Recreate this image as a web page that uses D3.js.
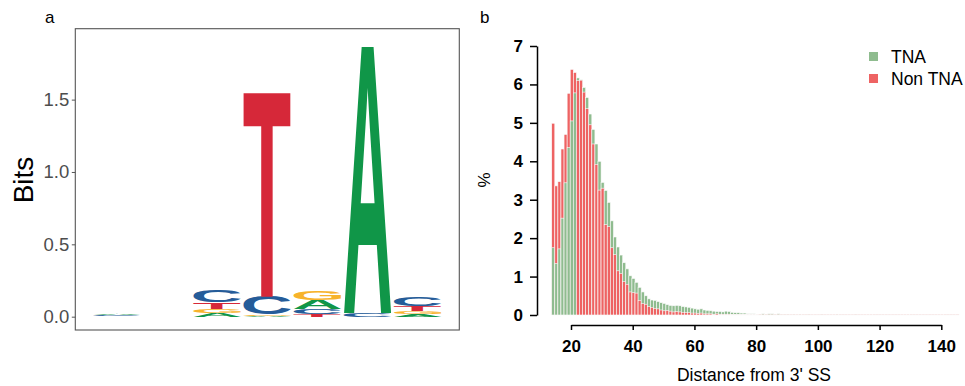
<!DOCTYPE html>
<html>
<head>
<meta charset="utf-8">
<script src="https://cdn.jsdelivr.net/npm/d3@7"></script>
<style>
  body { margin: 0; background: #fff; }
  svg { display: block; }
</style>
</head>
<body>
<div id="chart"></div>
<script>
// ---- panel a: sequence logo (bits per letter, positions 1..7)
const logoPositions = [1, 2, 3, 4, 5, 6, 7];
const bitsA = [0.008, 0, 0.025, 0.006, 0.062, 1.870, 0.019];
const bitsC = [0.004, 0, 0.082, 0.124, 0.036, 0.025, 0.062];
const bitsG = [0.003, 0, 0.030, 0.008, 0.063, 0, 0.020];
const bitsT = [0.003, 0, 0.045, 1.430, 0.016, 0, 0.035];
const bitsTicks = [0, 0.5, 1.0, 1.5];

// ---- panel b: distance from 3' SS (%), distances 14..145
const distances = d3.range(14, 146);
const tnaPct = [
  1.75, 1.34, 1.72, 2.52, 3.44, 4.36, 5.05, 5.78, 6.17, 6.12,
  5.92, 5.66, 5.23, 4.83, 4.45, 4.00, 3.45, 3.24, 2.93, 2.45,
  2.03, 1.77, 1.56, 1.36, 1.20, 1.02, 0.95, 0.85, 0.72, 0.60,
  0.50, 0.42, 0.39, 0.38, 0.35, 0.32, 0.30, 0.27, 0.25, 0.24,
  0.25, 0.24, 0.22, 0.21, 0.20, 0.18, 0.16, 0.15, 0.16, 0.13,
  0.12, 0.11, 0.10, 0.09, 0.09, 0.08, 0.10, 0.09, 0.07, 0.06,
  0.06, 0.05, 0.05, 0.03, 0.03, 0.03, 0.02, 0.02, 0.03, 0.02,
  0.03, 0.03, 0.02, 0.03, 0.02, 0.02, 0.02, 0.01, 0.02, 0.01,
  0.02, 0.01, 0.01, 0.02, 0.01, 0.01, 0.01, 0.02, 0.01, 0.01,
  0.01, 0.01, 0.02, 0.01, 0.01, 0.01, 0.01, 0.01, 0.02, 0.01,
  0.01, 0.01, 0.01, 0.01, 0.01, 0.01, 0.01, 0.01, 0.01, 0.01,
  0.01, 0.01, 0.01, 0.01, 0.01, 0.01, 0.01, 0.01, 0.01, 0.01,
  0.01, 0.01, 0.01, 0.01, 0.01, 0.01, 0.01, 0.01, 0.01, 0.01,
  0.01, 0.01
];
const nonTnaPct = [
  4.99, 3.36, 3.47, 4.32, 4.70, 5.77, 6.39, 6.31, 6.10, 6.11,
  5.80, 5.37, 4.95, 4.45, 3.92, 3.25, 3.30, 2.35, 2.30, 1.75,
  1.57, 1.15, 1.08, 0.87, 0.80, 0.60, 0.58, 0.57, 0.38, 0.30,
  0.28, 0.22, 0.20, 0.17, 0.16, 0.13, 0.11, 0.12, 0.10, 0.08,
  0.09, 0.08, 0.07, 0.06, 0.06, 0.05, 0.05, 0.04, 0.05, 0.03,
  0.03, 0.03, 0.02, 0.03, 0.02, 0.02, 0.02, 0.02, 0.01, 0.01,
  0.01, 0.01, 0.01, 0.01, 0.01, 0.01, 0.01, 0.005, 0.005, 0.005,
  0.005, 0.005, 0.005, 0.005, 0.005, 0.005, 0.005, 0.005, 0.005, 0.005,
  0.005, 0.005, 0.005, 0.005, 0.005, 0.005, 0.005, 0.005, 0.005, 0.005,
  0.005, 0.005, 0.005, 0.005, 0.005, 0.005, 0.005, 0.005, 0.005, 0.005,
  0.005, 0.005, 0.005, 0.005, 0.005, 0.005, 0.005, 0.005, 0.005, 0.005,
  0.005, 0.005, 0.005, 0.005, 0.005, 0.005, 0.005, 0.005, 0.005, 0.005,
  0.005, 0.005, 0.005, 0.005, 0.005, 0.005, 0.005, 0.005, 0.005, 0.005,
  0.005, 0.005
];
const pctTicks = [0, 1, 2, 3, 4, 5, 6, 7];
const distTicks = [20, 40, 60, 80, 100, 120, 140];
const seriesNames = ["TNA", "Non TNA"];

const width = 965, height = 386;
const font = "'Liberation Sans', Arial, Helvetica, sans-serif";
const letterColor = { A: "#109648", C: "#255C99", G: "#F7B32B", T: "#D62839" };
const seriesColor = ["#8fbc8f", "#ee6363"];

const svg = d3.select("#chart")
    .append("svg")
    .attr("width", width)
    .attr("height", height)
    .style("font-family", font);

// ================= panel a =================
const xa = d3.scaleLinear().domain([0.17, 7.83]).range([75.3, 459.3]);
const ya = d3.scaleLinear().domain([-0.092, 1.99]).range([330, 28.7]);

svg.append("text")
    .attr("x", 45).attr("y", 23)
    .style("font-size", "17px")
    .text("a");

// tight glyph bounds from canvas, so every letter fills its box
const ctx = document.createElement("canvas").getContext("2d");
ctx.font = `bold 100px ${font}`;
const glyph = {};
["A", "C", "G", "T"].forEach(l => {
    const m = ctx.measureText(l);
    glyph[l] = {
        left: m.actualBoundingBoxLeft, right: m.actualBoundingBoxRight,
        asc: m.actualBoundingBoxAscent, desc: m.actualBoundingBoxDescent
    };
});

const letters = [];
logoPositions.forEach((p, i) => {
    const stack = [
        { l: "A", h: bitsA[i] }, { l: "C", h: bitsC[i] },
        { l: "G", h: bitsG[i] }, { l: "T", h: bitsT[i] }
    ].filter(d => d.h > 0).sort((a, b) => a.h - b.h);
    let base = 0;
    stack.forEach(d => {
        letters.push({ pos: p, letter: d.l, y0: base, y1: base + d.h });
        base += d.h;
    });
});

const logo = svg.append("g");
logo.selectAll("text")
    .data(letters)
    .join("text")
    .text(d => d.letter)
    .style("font-size", "100px")
    .style("font-weight", "bold")
    .attr("fill", d => letterColor[d.letter])
    .attr("transform", d => {
        const g = glyph[d.letter];
        const x0 = xa(d.pos - 0.475), x1 = xa(d.pos + 0.475);
        const top = ya(d.y1), bot = ya(d.y0);
        const sx = (x1 - x0) / (g.left + g.right);
        const sy = (bot - top) / (g.asc + g.desc);
        return `translate(${x0},${top}) scale(${sx},${sy}) translate(${g.left},${g.asc})`;
    });

svg.append("rect")
    .attr("x", 75.3).attr("y", 28.7)
    .attr("width", 384).attr("height", 301.3)
    .attr("fill", "none")
    .attr("stroke", "#555")
    .attr("stroke-width", 1.1);

const axA = svg.append("g")
    .attr("transform", "translate(75.3,0)")
    .call(d3.axisLeft(ya).tickValues(bitsTicks).tickFormat(d3.format(".1f")).tickSize(3.5).tickSizeOuter(0));
axA.select(".domain").remove();
axA.selectAll("line").attr("stroke", "#555");
axA.selectAll("text")
    .attr("x", -6)
    .attr("fill", "#4d4d4d")
    .style("font-family", font)
    .style("font-size", "18.5px");

svg.append("text")
    .attr("transform", "translate(33,180) rotate(-90)")
    .attr("text-anchor", "middle")
    .style("font-size", "28px")
    .text("Bits");

// ================= panel b =================
const xb = d3.scaleLinear().domain([20, 140]).range([571, 941.3]);
const yb = d3.scaleLinear().domain([0, 7]).range([315, 46]);

svg.append("text")
    .attr("x", 480).attr("y", 23)
    .style("font-size", "17px")
    .text("b");

// overlapping bars: the taller one behind, the shorter one in front
const barGroups = svg.append("g")
    .selectAll("g")
    .data(distances.map((d, i) => {
        const pair = [
            { dist: d, v: tnaPct[i], s: 0 },
            { dist: d, v: nonTnaPct[i], s: 1 }
        ];
        return pair.sort((a, b) => b.v - a.v);
    }))
    .join("g");

barGroups.selectAll("rect")
    .data(d => d)
    .join("rect")
    .attr("x", d => xb(d.dist - 0.25))
    .attr("width", xb(1) - xb(0))
    .attr("y", d => yb(d.v))
    .attr("height", d => yb(0) - yb(d.v))
    .attr("fill", d => seriesColor[d.s])
    .attr("stroke", "#fbfbfb")
    .attr("stroke-width", 0.6);

const axY = svg.append("g")
    .attr("transform", "translate(537,0)")
    .call(d3.axisLeft(yb).tickValues(pctTicks).tickFormat(d3.format("d")).tickSize(7).tickSizeOuter(0));
axY.selectAll("path, line").attr("stroke", "#000").attr("stroke-width", 1.5);
axY.selectAll("text")
    .attr("x", -14)
    .attr("fill", "#000")
    .style("font-family", font)
    .style("font-size", "17px")
    .style("font-weight", "bold");

const axX = svg.append("g")
    .attr("transform", "translate(0,325)")
    .call(d3.axisBottom(xb).tickValues(distTicks).tickFormat(d3.format("d")).tickSize(5).tickSizeOuter(0));
axX.selectAll("path, line").attr("stroke", "#000").attr("stroke-width", 1.5);
axX.selectAll("text")
    .attr("y", 15)
    .attr("fill", "#000")
    .style("font-family", font)
    .style("font-size", "17px")
    .style("font-weight", "bold");

svg.append("text")
    .attr("x", 754).attr("y", 381)
    .attr("text-anchor", "middle")
    .style("font-size", "17.5px")
    .text("Distance from 3' SS");

svg.append("text")
    .attr("transform", "translate(490,180) rotate(-90)")
    .attr("text-anchor", "middle")
    .style("font-size", "17px")
    .text("%");

// legend
const legend = svg.append("g")
    .selectAll("g")
    .data(seriesNames)
    .join("g")
    .attr("transform", (d, i) => `translate(869,${52 + i * 22})`);
legend.append("rect")
    .attr("width", 9).attr("height", 9)
    .attr("fill", (d, i) => seriesColor[i]);
legend.append("text")
    .attr("x", 22).attr("y", 11)
    .style("font-size", "17.5px")
    .text(d => d);
</script>
</body>
</html>
